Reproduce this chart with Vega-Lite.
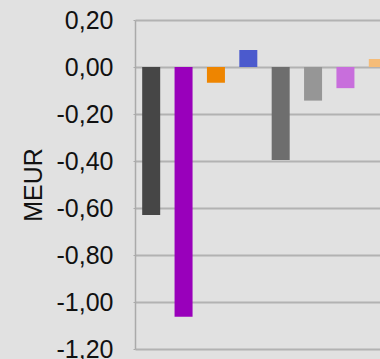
{
  "$schema": "https://vega.github.io/schema/vega-lite/v6.json",
  "width": 259,
  "height": 329,
  "autosize": {"type": "none"},
  "padding": {"left": 135, "top": 20, "right": 0, "bottom": 10},
  "background": "#e1e1e1",
  "data": {
    "values": [
      {"item": "1", "value": -0.63, "color": "#464646"},
      {"item": "2", "value": -1.063, "color": "#9900bb"},
      {"item": "3", "value": -0.067, "color": "#ee8500"},
      {"item": "4", "value": 0.072, "color": "#4b5acd"},
      {"item": "5", "value": -0.396, "color": "#6e6e6e"},
      {"item": "6", "value": -0.143, "color": "#969696"},
      {"item": "7", "value": -0.09, "color": "#c86edc"},
      {"item": "8", "value": 0.034, "color": "#f5bc78"}
    ]
  },
  "mark": {"type": "bar"},
  "encoding": {
    "x": {
      "field": "item",
      "type": "nominal",
      "sort": null,
      "scale": {"paddingInner": 0.444, "paddingOuter": 0.222},
      "axis": null
    },
    "y": {
      "field": "value",
      "type": "quantitative",
      "scale": {"domain": [-1.2, 0.2], "nice": false, "zero": false},
      "axis": {
        "title": "MEUR",
        "values": [-1.2, -1.0, -0.8, -0.6, -0.4, -0.2, 0, 0.2],
        "labelExpr": "replace(replace(format(datum.value, '.2f'), '.', ','), '\u2212', '-')",
        "labelFont": "Liberation Sans",
        "labelFontSize": 25,
        "labelColor": "#111111",
        "labelPadding": 20,
        "tickSize": 2,
        "tickColor": "#aaaaaa",
        "domainColor": "#aaaaaa",
        "domainWidth": 1.5,
        "grid": true,
        "gridColor": "#b2b2b2",
        "gridWidth": 2,
        "titleFont": "Liberation Sans",
        "titleFontSize": 25,
        "titleFontWeight": "normal",
        "titleColor": "#111111",
        "titlePadding": 10
      }
    },
    "color": {"field": "color", "type": "nominal", "scale": null, "legend": null}
  },
  "config": {"view": {"stroke": null}}
}
